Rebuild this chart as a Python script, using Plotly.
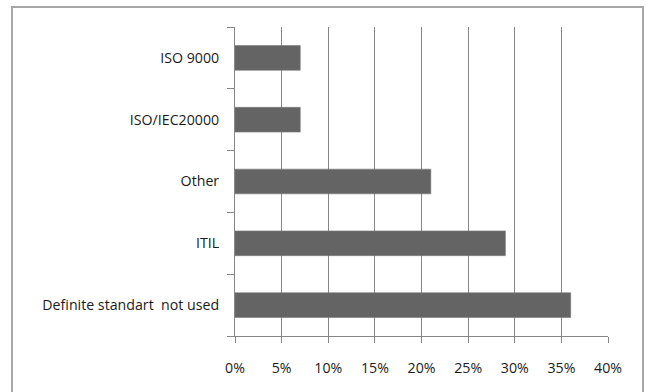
import plotly.graph_objects as go

categories = ["Definite standart\u00a0 not used", "ITIL", "Other", "ISO/IEC20000", "ISO 9000"]
shares = [36, 29, 21, 7, 7]
x_ticks = [0, 5, 10, 15, 20, 25, 30, 35, 40]

W, H = 648, 392
L, R, T, B = 235, 40, 27, 56
pw, ph = W - L - R, H - T - B

def px_x(v):
    return (v - L) / pw

def px_y(v):
    return (H - B - v) / ph

font = dict(family="'Open Sans', sans-serif", size=14.2, color="#1a1a1a")
line_col = "#868686"

fig = go.Figure(go.Bar(
    y=categories,
    x=shares,
    orientation="h",
    marker=dict(color="#646464", line=dict(color="#7a7a7a", width=0.6)),
    width=0.4,
))

fig.update_layout(
    width=W, height=H,
    margin=dict(l=L, r=R, t=T, b=B),
    paper_bgcolor="white",
    plot_bgcolor="white",
    font=font,
    showlegend=False,
    xaxis=dict(
        range=[0, 40],
        tickvals=x_ticks,
        ticktext=[f"{v}%" for v in x_ticks],
        showgrid=True, gridcolor=line_col, gridwidth=1,
        zeroline=False,
        showline=True, linecolor=line_col, linewidth=1,
        ticks="outside", ticklen=6, tickcolor=line_col,
        ticklabelstandoff=13,
        fixedrange=True,
    ),
    yaxis=dict(
        categoryorder="array", categoryarray=categories,
        range=[-0.5, 4.5],
        showgrid=False, zeroline=False,
        showline=True, linecolor=line_col, linewidth=1,
        ticks="outside", ticklen=7, tickcolor=line_col,
        tickson="boundaries",
        ticklabelstandoff=12,
        fixedrange=True,
    ),
    shapes=[dict(
        type="rect", xref="paper", yref="paper",
        x0=px_x(12), x1=px_x(643), y0=px_y(400), y1=px_y(7),
        line=dict(color="#a6a6a6", width=2), fillcolor="rgba(0,0,0,0)",
        layer="below",
    )],
)

fig.write_html("out.html", config={"displayModeBar": False})
